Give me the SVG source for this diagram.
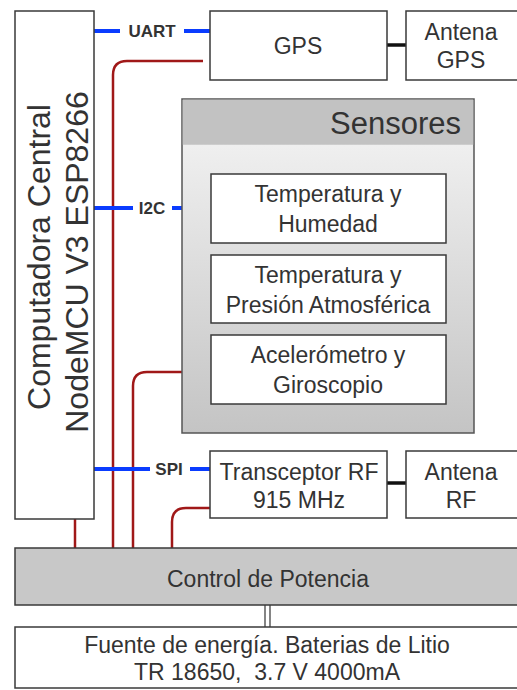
<svg xmlns="http://www.w3.org/2000/svg" width="517" height="690" viewBox="0 0 517 690">
<defs>
<linearGradient id="sg" x1="0" y1="0" x2="0" y2="1">
<stop offset="0" stop-color="#f6f6f6"/>
<stop offset="1" stop-color="#c4c4c4"/>
</linearGradient>
<style>
.box{fill:#fff;stroke:#3a3a3a;stroke-width:1.5}
.t{font-family:"Liberation Sans",Arial,sans-serif;font-size:23px;fill:#333;text-anchor:middle}
.big{font-size:32px}
.bus{font-family:"Liberation Sans",Arial,sans-serif;font-size:17px;font-weight:bold;fill:#333;text-anchor:middle}
.blue{stroke:#0a3cff;stroke-width:4;fill:none}
.red{stroke:#a01818;stroke-width:2.5;fill:none}
.blk{stroke:#111;stroke-width:3.5;fill:none}
.thin{stroke:#333;stroke-width:1.2;fill:none}
</style>
</defs>
<rect width="517" height="690" fill="#fff"/>
<g id="connectors">
<path class="red" d="M203 61 H127 Q113 61 113 75 V548"/>
<path class="red" d="M182 372 H147 Q133 372 133 386 V548"/>
<path class="red" d="M210 508 H186 Q172 508 172 522 V548"/>
<path class="red" d="M75 519 V548"/>
<line class="blue" x1="94" y1="31" x2="120" y2="31"/>
<line class="blue" x1="184" y1="31" x2="210" y2="31"/>
<line class="blue" x1="94" y1="208" x2="133" y2="208"/>
<line class="blue" x1="172" y1="208" x2="211" y2="208"/>
<line class="blue" x1="94" y1="469" x2="150" y2="469"/>
<line class="blue" x1="190" y1="469" x2="210" y2="469"/>
<text class="bus" x="152" y="37">UART</text>
<text class="bus" x="152" y="214">I2C</text>
<text class="bus" x="169" y="475">SPI</text>
<line class="blk" x1="387" y1="45" x2="406" y2="45"/>
<line class="blk" x1="387" y1="483" x2="406" y2="483"/>
<line class="thin" x1="328" y1="243" x2="328" y2="255"/>
<line class="thin" x1="328" y1="323" x2="328" y2="335"/>
<line class="thin" x1="265" y1="605" x2="265" y2="627"/>
<line class="thin" x1="270" y1="605" x2="270" y2="627"/>
</g>
<g id="computadora">
<rect class="box" x="15" y="11" width="79" height="508"/>
<text class="t big" transform="translate(50,257) rotate(-90)">Computadora Central</text>
<text class="t big" transform="translate(88,262) rotate(-90)">NodeMCU V3 ESP8266</text>
</g>
<g id="gps">
<rect class="box" x="210" y="11" width="177" height="69"/>
<text class="t" x="298" y="54">GPS</text>
</g>
<g id="antena-gps">
<rect class="box" x="406" y="11" width="112" height="69"/>
<text class="t" x="461" y="40">Antena</text>
<text class="t" x="461" y="68">GPS</text>
</g>
<g id="sensores">
<rect x="182" y="99" width="292" height="334" fill="url(#sg)" stroke="#555" stroke-width="1.5"/>
<rect x="182.75" y="99.75" width="290.5" height="45" fill="#c2c2c2"/>
<text class="t" style="font-size:31px;text-anchor:end" x="461" y="134">Sensores</text>
</g>
<g id="temp-humedad">
<rect class="box" x="211" y="174" width="235" height="69"/>
<text class="t" x="328" y="202">Temperatura y</text>
<text class="t" x="328" y="232">Humedad</text>
</g>
<g id="temp-presion">
<rect class="box" x="211" y="255" width="235" height="68"/>
<text class="t" x="328" y="283">Temperatura y</text>
<text class="t" x="328" y="313">Presión Atmosférica</text>
</g>
<g id="acelerometro">
<rect class="box" x="211" y="335" width="235" height="69"/>
<text class="t" x="328" y="363">Acelerómetro y</text>
<text class="t" x="328" y="393">Giroscopio</text>
</g>
<g id="transceptor">
<rect class="box" x="210" y="451" width="177" height="67"/>
<text class="t" x="299" y="480">Transceptor RF</text>
<text class="t" x="299" y="508">915 MHz</text>
</g>
<g id="antena-rf">
<rect class="box" x="406" y="451" width="112" height="67"/>
<text class="t" x="461" y="480">Antena</text>
<text class="t" x="461" y="508">RF</text>
</g>
<g id="control">
<rect x="15" y="548" width="503" height="57" fill="#c8c8c8" stroke="#3a3a3a" stroke-width="1.5"/>
<text class="t" x="268" y="587">Control de Potencia</text>
</g>
<g id="fuente">
<rect class="box" x="15" y="627" width="503" height="61"/>
<text class="t" x="267" y="653">Fuente de energía. Baterias de Litio</text>
<text class="t" x="267" y="680" xml:space="preserve">TR 18650,  3.7 V 4000mA</text>
</g>
</svg>
